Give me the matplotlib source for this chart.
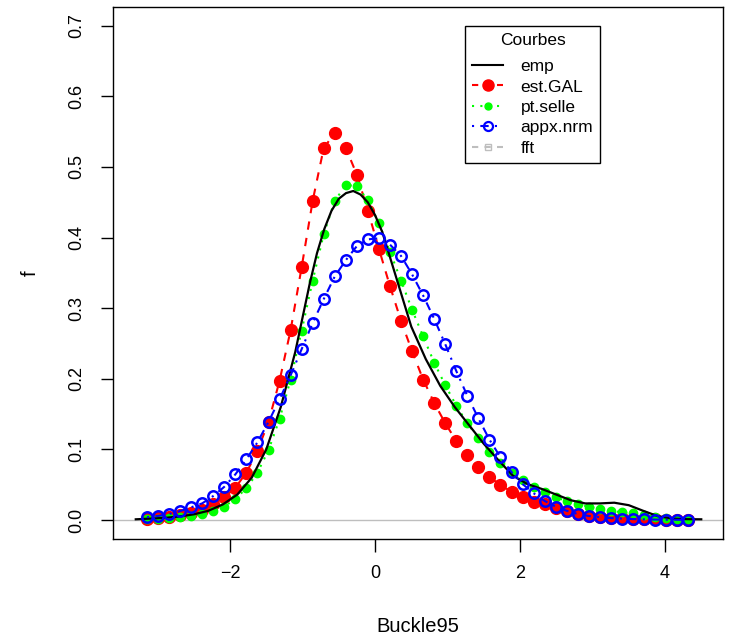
import matplotlib
matplotlib.use('Agg')
import matplotlib.pyplot as plt
from matplotlib.lines import Line2D

plt.rcParams['font.family'] = ['Liberation Sans', 'DejaVu Sans']

# grid shared by the three approximations
x = [-3.145, -2.993, -2.840, -2.688, -2.536, -2.383, -2.231, -2.079, -1.926, -1.774,
     -1.622, -1.469, -1.317, -1.164, -1.012, -0.860, -0.707, -0.555, -0.403, -0.250,
     -0.098, 0.054, 0.207, 0.359, 0.511, 0.664, 0.816, 0.969, 1.121, 1.273,
     1.426, 1.578, 1.730, 1.883, 2.035, 2.187, 2.340, 2.492, 2.645, 2.797,
     2.949, 3.102, 3.254, 3.406, 3.559, 3.711, 3.863, 4.016, 4.168, 4.320]

est_gal = [0.002, 0.003, 0.0047, 0.007, 0.0094, 0.014, 0.022, 0.032, 0.046, 0.067,
           0.098, 0.139, 0.197, 0.269, 0.358, 0.452, 0.527, 0.548, 0.527, 0.489,
           0.438, 0.384, 0.331, 0.282, 0.239, 0.199, 0.166, 0.137, 0.112, 0.092,
           0.0755, 0.061, 0.0496, 0.040, 0.032, 0.026, 0.0225, 0.0165, 0.0127, 0.0085,
           0.0057, 0.004, 0.003, 0.0022, 0.0016, 0.0012, 0.0009, 0.0007, 0.0005, 0.0004]

pt_selle = [0.0015, 0.002, 0.003, 0.004, 0.0057, 0.0085, 0.0127, 0.019, 0.030, 0.045,
            0.067, 0.099, 0.143, 0.199, 0.268, 0.339, 0.405, 0.452, 0.4745, 0.473,
            0.453, 0.420, 0.380, 0.339, 0.298, 0.260, 0.223, 0.191, 0.162, 0.137,
            0.116, 0.097, 0.081, 0.067, 0.0567, 0.047, 0.0395, 0.032, 0.027, 0.022,
            0.019, 0.0156, 0.013, 0.011, 0.0094, 0.007, 0.0047, 0.003, 0.002, 0.0015]

appx_nrm = [0.004, 0.0057, 0.0085, 0.0127, 0.018, 0.0236, 0.034, 0.047, 0.0647, 0.086,
            0.110, 0.139, 0.171, 0.205, 0.242, 0.279, 0.313, 0.345, 0.368, 0.388,
            0.3975, 0.399, 0.390, 0.374, 0.348, 0.318, 0.285, 0.249, 0.211, 0.176,
            0.144, 0.114, 0.089, 0.068, 0.051, 0.038, 0.027, 0.019, 0.013, 0.0085,
            0.0057, 0.004, 0.0027, 0.002, 0.0013, 0.0009, 0.0006, 0.0004, 0.0003, 0.0002]

# empirical density (finer around the mode)
emp_x = [-3.3, -3.1, -2.9, -2.7, -2.5, -2.3, -2.1, -1.9, -1.7, -1.5,
         -1.3, -1.1, -0.9, -0.8, -0.7, -0.6, -0.5, -0.4, -0.3, -0.2, -0.1, 0.0,
         0.1, 0.3, 0.5, 0.7, 0.9, 1.1, 1.3, 1.5, 1.7, 1.9, 2.1, 2.3, 2.5,
         2.7, 2.9, 3.1, 3.3, 3.5, 3.7, 3.9, 4.1, 4.3, 4.5]
emp = [0.001, 0.002, 0.003, 0.005, 0.008, 0.013, 0.022, 0.036, 0.060, 0.100,
       0.160, 0.238, 0.335, 0.378, 0.412, 0.438, 0.455, 0.463, 0.466, 0.461, 0.450, 0.432,
       0.408, 0.341, 0.274, 0.228, 0.190, 0.160, 0.134, 0.108, 0.085, 0.063, 0.051, 0.044, 0.036,
       0.028, 0.0235, 0.0235, 0.0245, 0.021, 0.013, 0.0055, 0.002, 0.0012, 0.001]

labels = ['emp', 'est.GAL', 'pt.selle', 'appx.nrm', 'fft']

fig = plt.figure(figsize=(7.3, 6.42), dpi=100)
ax = fig.add_axes([113/730, 1-539/642, 610/730, 532/642])

ax.axhline(0, color='#BEBEBE', lw=1, zorder=1)
ax.plot(emp_x, emp, color='black', lw=1.6, zorder=3)
ax.plot(x, est_gal, color='red', ls=(0, (4, 4)), lw=1.5, marker='o', ms=8.5,
        mec='red', mfc='red', zorder=2)
ax.plot(x, pt_selle, color='#00FF00', ls=(0, (1, 3)), lw=1.5, marker='o', ms=6,
        mec='#00FF00', mfc='#00FF00', zorder=2)
ax.plot(x, appx_nrm, color='blue', ls=(0, (1, 3, 4, 3)), lw=1.5, marker='o', ms=7.5,
        mec='blue', mfc='none', mew=1.8, zorder=4)

ax.set_xlim(-3.614, 4.8)
ax.set_ylim(-0.0269, 0.7266)
ax.set_xticks([-2, 0, 2, 4])
ax.set_xticklabels(['\u22122', '0', '2', '4'])
ax.set_yticks([0.0, 0.1, 0.2, 0.3, 0.4, 0.5, 0.6, 0.7])
ax.set_yticklabels(['0.0', '0.1', '0.2', '0.3', '0.4', '0.5', '0.6', '0.7'],
                   rotation=90, va='center')
ax.tick_params(axis='both', direction='out', length=9, width=1, labelsize=13)
ax.tick_params(axis='x', pad=10)
ax.tick_params(axis='y', pad=11)
for s in ax.spines.values():
    s.set_linewidth(1)

fig.text(418/730, 1-626/642, 'Buckle95', ha='center', va='center', fontsize=14.5)
fig.text(30/730, 1-273/642, 'f', ha='center', va='center', fontsize=14.5, rotation=90)

handles = [
    Line2D([], [], color='black', lw=1.5),
    Line2D([], [], color='red', ls=(0, (3, 3)), lw=1.5, marker='o', ms=8, mfc='red', mec='red'),
    Line2D([], [], color='#00FF00', ls=(0, (1, 3)), lw=1.5, marker='o', ms=5, mfc='#00FF00', mec='#00FF00'),
    Line2D([], [], color='blue', ls=(0, (1, 3, 4, 3)), lw=1.5, marker='o', ms=6.5, mfc='none', mec='blue', mew=1.6),
    Line2D([], [], color='#BEBEBE', ls=(0, (3, 3)), lw=1.5, marker='s', ms=5, mfc='none', mec='#BEBEBE'),
]
leg = ax.legend(handles, labels, title='Courbes', loc='upper left',
                bbox_to_anchor=(465/730, 1-26/642), bbox_transform=fig.transFigure,
                borderaxespad=0, fancybox=False, framealpha=1, edgecolor='black',
                fontsize=12.5, title_fontsize=12.5, handlelength=1.8, handletextpad=1.0,
                labelspacing=0.3, borderpad=0.4)
leg.get_frame().set_linewidth(1)
leg._legend_box.sep = 8

fig.savefig('out.png', dpi=100)
